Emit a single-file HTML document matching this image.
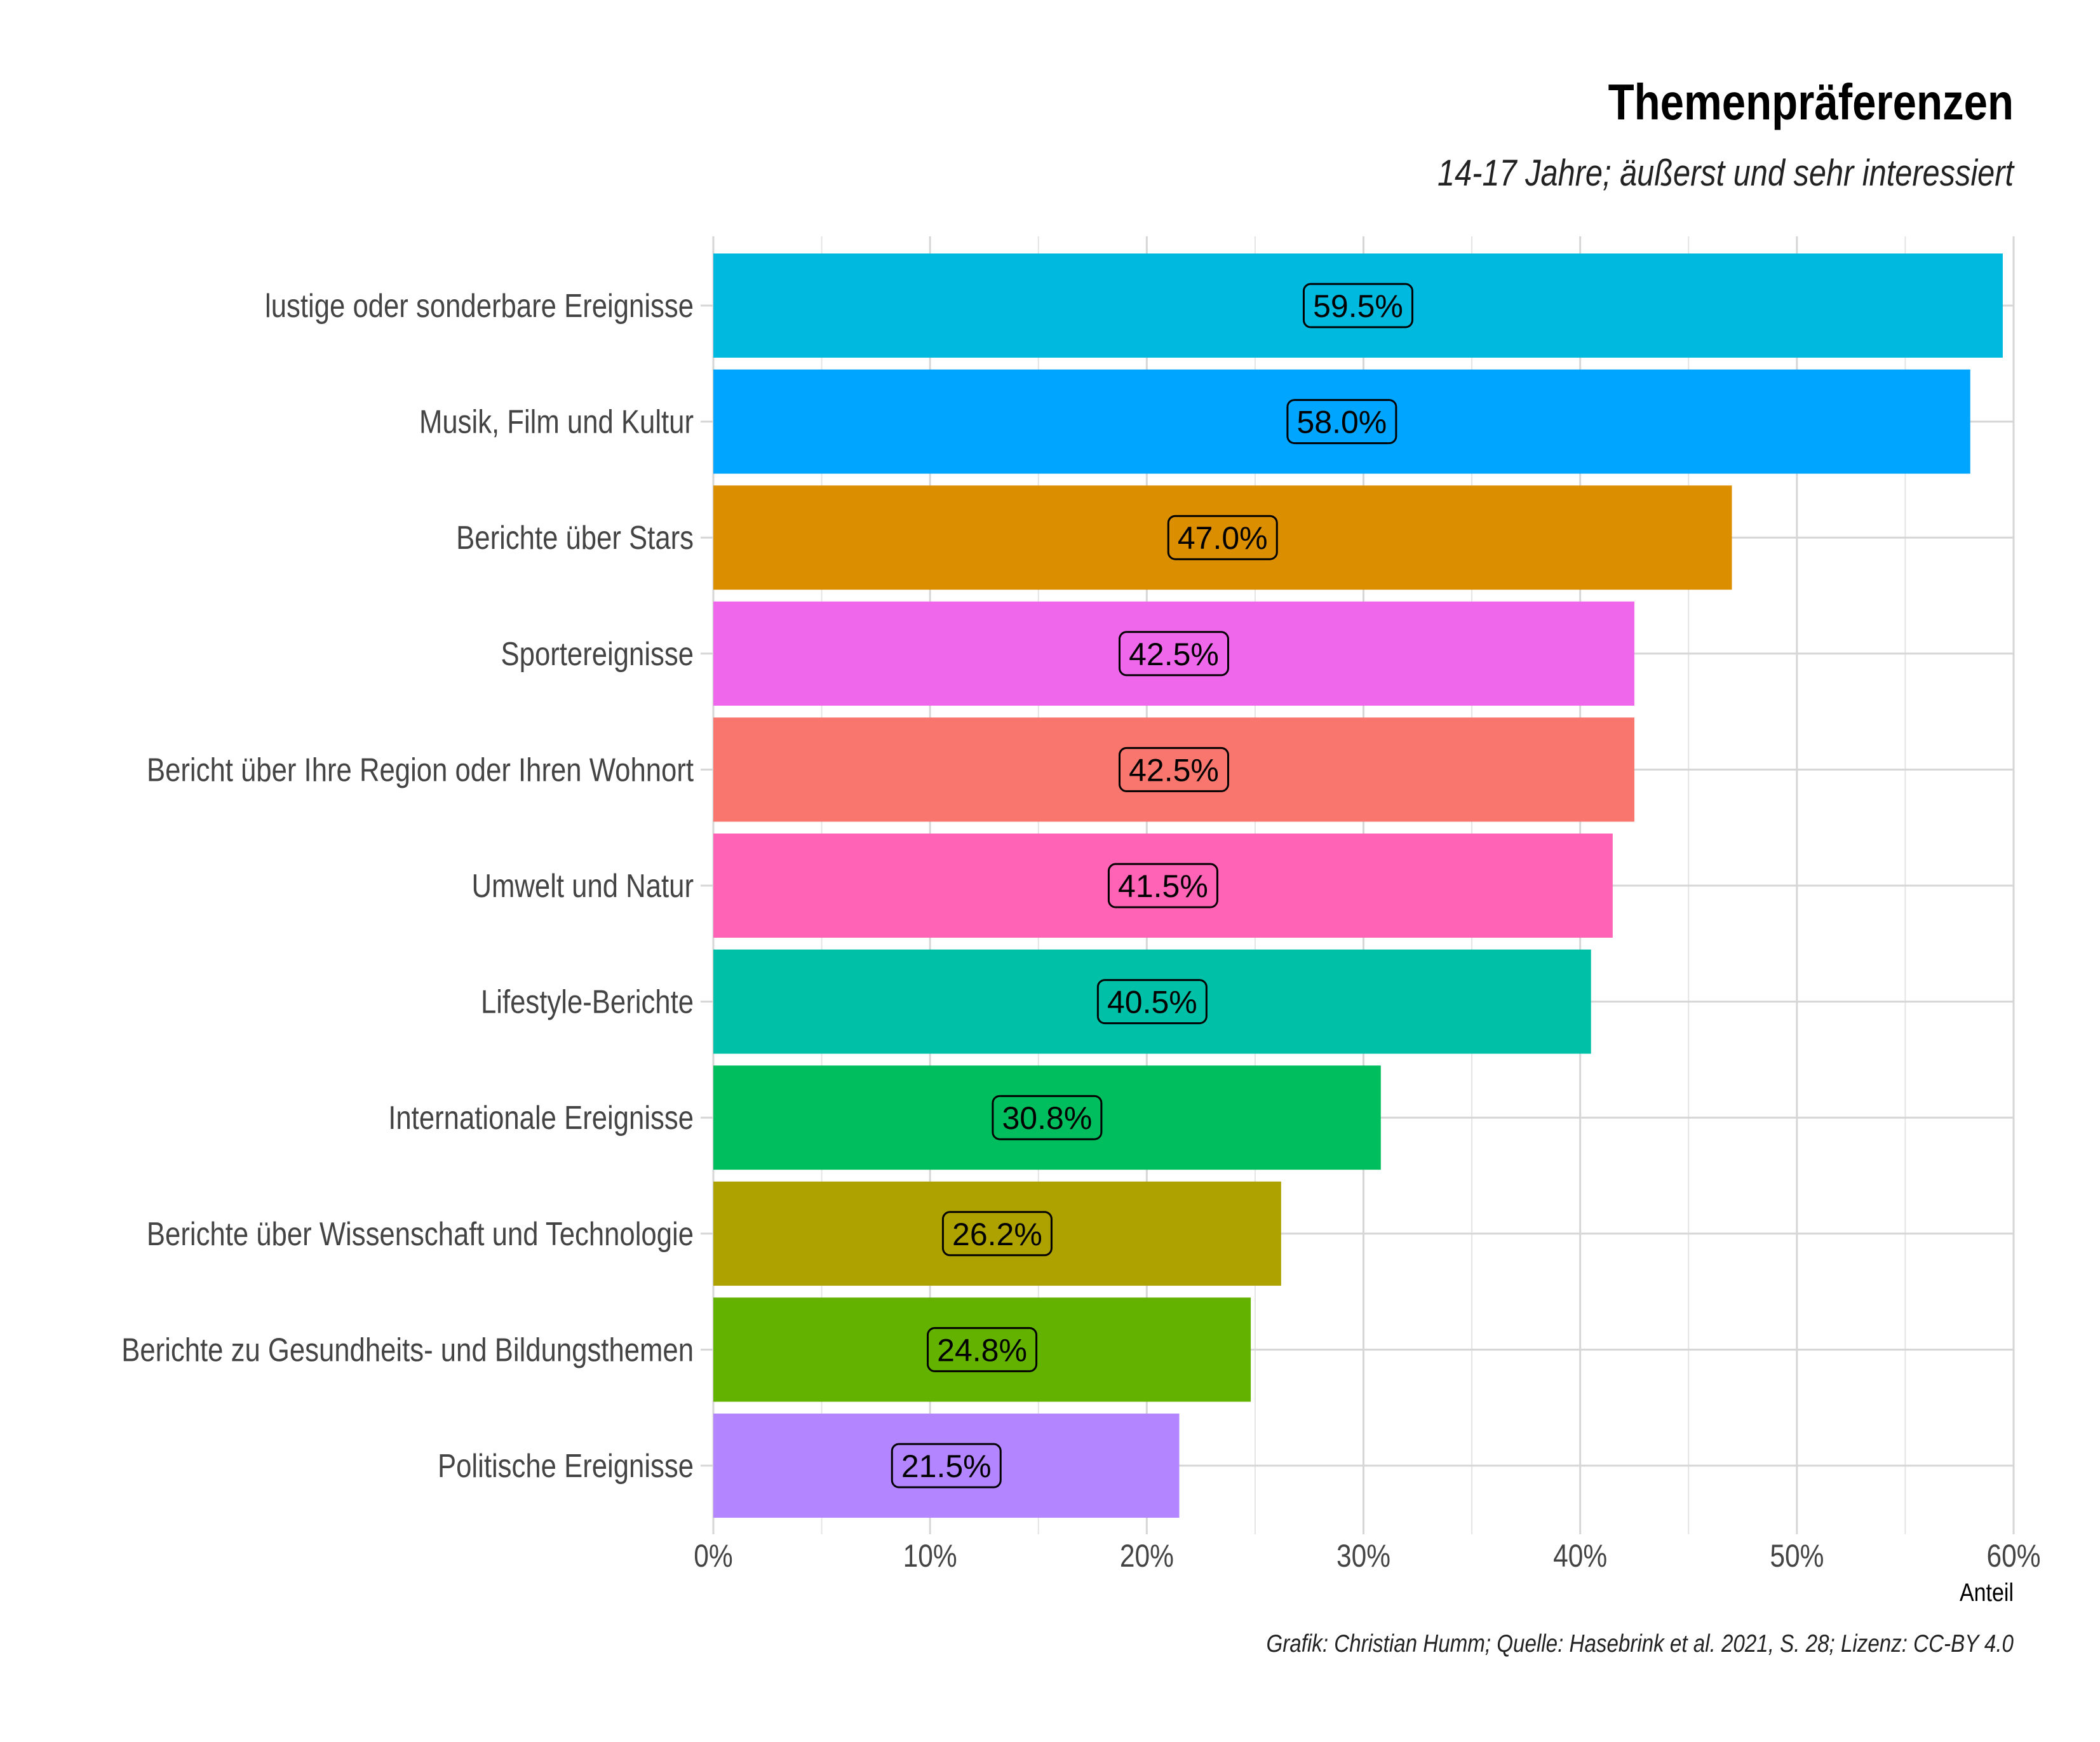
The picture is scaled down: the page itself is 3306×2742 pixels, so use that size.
<!DOCTYPE html>
<html><head><meta charset="utf-8"><style>
html,body{margin:0;padding:0;background:#fff}
svg{display:block}
.cond{font-family:"Liberation Sans Narrow","Liberation Sans",sans-serif}
</style></head><body>
<svg id="chart" width="3306" height="2742" viewBox="0 0 3306 2742" xmlns="http://www.w3.org/2000/svg">
<rect width="3306" height="2742" fill="#fff"/>
<text transform="translate(3170,188) scale(0.84,1)" text-anchor="end" class="cond" font-size="80" font-weight="bold" fill="#000">Themenpräferenzen</text>
<text transform="translate(3170,292) scale(0.84,1)" text-anchor="end" class="cond" font-size="58" font-style="italic" fill="#222">14-17 Jahre; äußerst und sehr interessiert</text>
<g id="grid"></g>
<g id="bars"></g>
<g id="labels"></g>
<g id="yaxis"></g>
<g id="xaxis"></g>
<text transform="translate(3170,2520) scale(0.85,1)" text-anchor="end" class="cond" font-size="40" fill="#000">Anteil</text>
<text transform="translate(3170,2600) scale(0.85,1)" text-anchor="end" class="cond" font-size="39" font-style="italic" fill="#222">Grafik: Christian Humm; Quelle: Hasebrink et al. 2021, S. 28; Lizenz: CC-BY 4.0</text>
</svg>
<script>
const categories = ["lustige oder sonderbare Ereignisse","Musik, Film und Kultur","Berichte über Stars","Sportereignisse","Bericht über Ihre Region oder Ihren Wohnort","Umwelt und Natur","Lifestyle-Berichte","Internationale Ereignisse","Berichte über Wissenschaft und Technologie","Berichte zu Gesundheits- und Bildungsthemen","Politische Ereignisse"];
const values = [59.5,58.0,47.0,42.5,42.5,41.5,40.5,30.8,26.2,24.8,21.5];
const colors = ["#00B9DE","#00A5FF","#DB8E00","#EF67EB","#F8766D","#FF63B6","#00C1A7","#00BE5E","#AEA200","#64B200","#B385FF"];
const xTicks = [0,10,20,30,40,50,60];
const xTickLabels = ["0%","10%","20%","30%","40%","50%","60%"];
const xMinor = [5,15,25,35,45,55];

const NS="http://www.w3.org/2000/svg";
const X0=1123, X1=3170, XMAX=60, YTOP=372, YBOT=2415, Y0=481, PITCH=182.6, BH=164;
const xs=v=>X0+(X1-X0)*v/XMAX;
const ys=i=>Y0+i*PITCH;
function mk(tag,attrs,parent){const e=document.createElementNS(NS,tag);for(const k in attrs)e.setAttribute(k,attrs[k]);parent.appendChild(e);return e;}
const grid=document.getElementById('grid'),bars=document.getElementById('bars'),labels=document.getElementById('labels'),yaxis=document.getElementById('yaxis'),xaxis=document.getElementById('xaxis');
xMinor.forEach(v=>{const l=mk('line',{x1:xs(v),x2:xs(v),y1:YTOP,y2:YBOT,stroke:'#e4e4e4','stroke-width':2},grid);

});
xTicks.forEach((v,i)=>{const l=mk('line',{x1:xs(v),x2:xs(v),y1:YTOP,y2:YBOT,stroke:'#d6d6d6','stroke-width':3},grid);


const t=mk('text',{transform:'translate('+xs(v)+',2466) scale(0.85,1)','text-anchor':'middle','class':'cond','font-size':50,fill:'#444'},xaxis);t.textContent=xTickLabels[i];

});
categories.forEach((c,i)=>{const y=ys(i);
const g=mk('line',{x1:X0,x2:X1,y1:y,y2:y,stroke:'#d6d6d6','stroke-width':3},grid);


const tk=mk('line',{x1:1103,x2:1123,y1:y,y2:y,stroke:'#d6d6d6','stroke-width':3},yaxis);


const t=mk('text',{transform:'translate(1092,'+(y+18)+') scale(0.84,1)','text-anchor':'end','class':'cond','font-size':52,fill:'#444'},yaxis);t.textContent=c;


const r=mk('rect',{x:X0,y:y-BH/2,width:xs(values[i])-X0,height:BH,fill:colors[i]},bars);


const cx=xs(values[i]/2);
const txt=values[i].toFixed(1)+'%';
const w=171;
const b=mk('rect',{x:cx-w/2,y:y-34,width:w,height:68,rx:11,fill:'none',stroke:'#000','stroke-width':3},labels);


const vt=mk('text',{x:cx,y:y+18,'text-anchor':'middle','font-family':'Liberation Sans, sans-serif','font-size':50,fill:'#000'},labels);vt.textContent=txt;


});
</script>
</body></html>
